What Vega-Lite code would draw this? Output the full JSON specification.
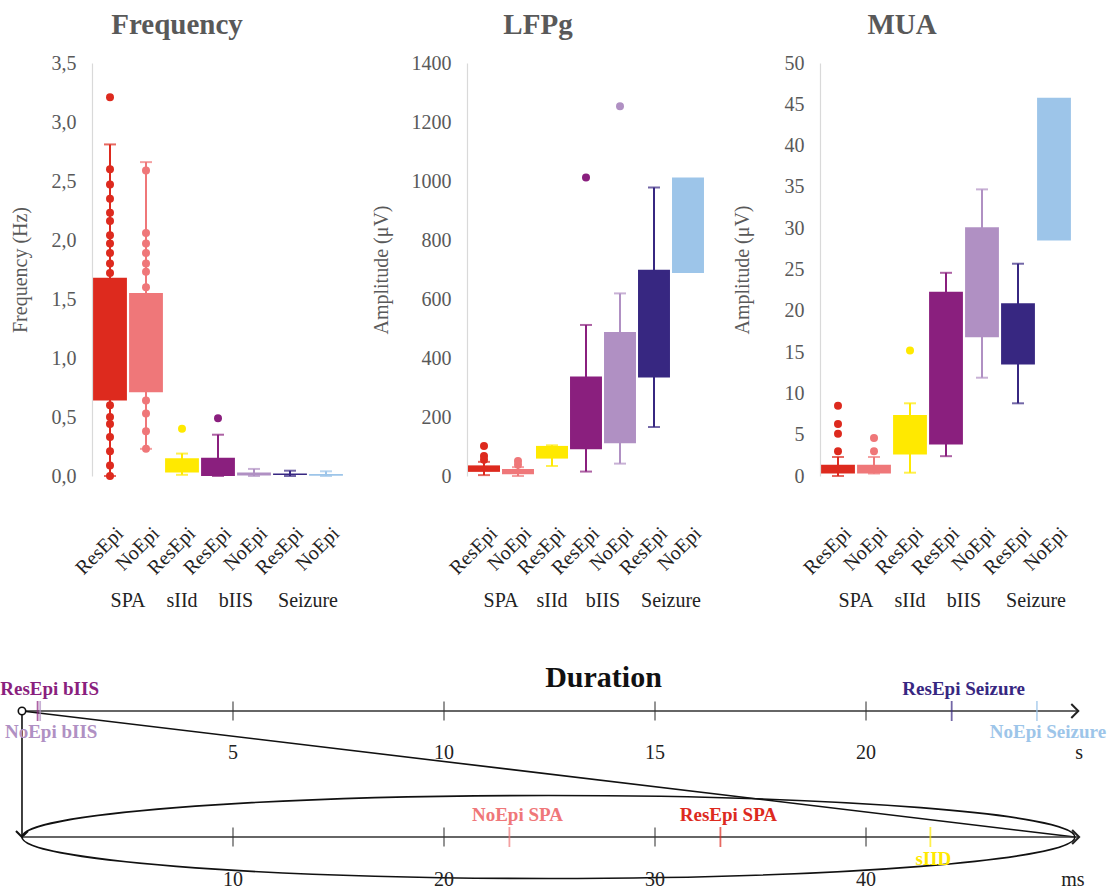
{
  "$schema": "https://vega.github.io/schema/vega-lite/v6.json",
  "padding": {"left": 0, "top": 11, "right": 0, "bottom": 0},
  "background": "white",
  "config": {
    "view": {"stroke": null},
    "font": "Liberation Serif",
    "title": {"anchor": "middle", "font": "Liberation Serif", "fontSize": 29, "fontWeight": "bold", "color": "#595959", "offset": 13},
    "axisY": {"domainColor": "#d9d9d9", "domainWidth": 1.2, "ticks": false, "grid": false, "labelFont": "Liberation Serif", "labelFontSize": 20, "labelColor": "#595959", "labelPadding": 16, "titleFont": "Liberation Serif", "titleFontSize": 20, "titleFontWeight": "normal", "titleColor": "#595959", "titlePadding": 20},
    "axisX": {"domain": false, "ticks": false, "grid": false, "labelAngle": -45, "labelFont": "Liberation Serif", "labelFontSize": 20, "labelColor": "#222222", "labelPadding": 47, "labelOffset": 3},
    "header": {"labelFont": "Liberation Serif", "labelFontSize": 20, "labelColor": "#222222", "labelOrient": "bottom", "labelPadding": 115}
  },
  "datasets": {
    "top": [
      {"panel":"Frequency","group":"SPA","epi":"ResEpi","series":"ResEpi SPA","kind":"box","lo":0,"q1":0.64,"q3":1.68,"hi":2.81},
      {"panel":"Frequency","group":"SPA","epi":"NoEpi","series":"NoEpi SPA","kind":"box","lo":0.23,"q1":0.71,"q3":1.55,"hi":2.66},
      {"panel":"Frequency","group":"sIId","epi":"ResEpi","series":"ResEpi sIId","kind":"box","lo":0.01,"q1":0.03,"q3":0.15,"hi":0.19},
      {"panel":"Frequency","group":"bIIS","epi":"ResEpi","series":"ResEpi bIIS","kind":"box","lo":0,"q1":0,"q3":0.155,"hi":0.35},
      {"panel":"Frequency","group":"bIIS","epi":"NoEpi","series":"NoEpi bIIS","kind":"box","lo":0,"q1":0.005,"q3":0.03,"hi":0.06},
      {"panel":"Frequency","group":"Seizure","epi":"ResEpi","series":"ResEpi Seizure","kind":"box","lo":0,"q1":0.008,"q3":0.022,"hi":0.045},
      {"panel":"Frequency","group":"Seizure","epi":"NoEpi","series":"NoEpi Seizure","kind":"box","lo":0,"q1":0.002,"q3":0.018,"hi":0.04},
      {"panel":"Frequency","group":"SPA","epi":"ResEpi","series":"ResEpi SPA","kind":"pt","value":3.21},
      {"panel":"Frequency","group":"SPA","epi":"ResEpi","series":"ResEpi SPA","kind":"pt","value":2.6},
      {"panel":"Frequency","group":"SPA","epi":"ResEpi","series":"ResEpi SPA","kind":"pt","value":2.47},
      {"panel":"Frequency","group":"SPA","epi":"ResEpi","series":"ResEpi SPA","kind":"pt","value":2.35},
      {"panel":"Frequency","group":"SPA","epi":"ResEpi","series":"ResEpi SPA","kind":"pt","value":2.23},
      {"panel":"Frequency","group":"SPA","epi":"ResEpi","series":"ResEpi SPA","kind":"pt","value":2.16},
      {"panel":"Frequency","group":"SPA","epi":"ResEpi","series":"ResEpi SPA","kind":"pt","value":2.04},
      {"panel":"Frequency","group":"SPA","epi":"ResEpi","series":"ResEpi SPA","kind":"pt","value":1.97},
      {"panel":"Frequency","group":"SPA","epi":"ResEpi","series":"ResEpi SPA","kind":"pt","value":1.89},
      {"panel":"Frequency","group":"SPA","epi":"ResEpi","series":"ResEpi SPA","kind":"pt","value":1.8},
      {"panel":"Frequency","group":"SPA","epi":"ResEpi","series":"ResEpi SPA","kind":"pt","value":1.72},
      {"panel":"Frequency","group":"SPA","epi":"ResEpi","series":"ResEpi SPA","kind":"pt","value":0.6},
      {"panel":"Frequency","group":"SPA","epi":"ResEpi","series":"ResEpi SPA","kind":"pt","value":0.5},
      {"panel":"Frequency","group":"SPA","epi":"ResEpi","series":"ResEpi SPA","kind":"pt","value":0.44},
      {"panel":"Frequency","group":"SPA","epi":"ResEpi","series":"ResEpi SPA","kind":"pt","value":0.33},
      {"panel":"Frequency","group":"SPA","epi":"ResEpi","series":"ResEpi SPA","kind":"pt","value":0.21},
      {"panel":"Frequency","group":"SPA","epi":"ResEpi","series":"ResEpi SPA","kind":"pt","value":0.09},
      {"panel":"Frequency","group":"SPA","epi":"ResEpi","series":"ResEpi SPA","kind":"pt","value":0.0},
      {"panel":"Frequency","group":"SPA","epi":"NoEpi","series":"NoEpi SPA","kind":"pt","value":2.59},
      {"panel":"Frequency","group":"SPA","epi":"NoEpi","series":"NoEpi SPA","kind":"pt","value":2.06},
      {"panel":"Frequency","group":"SPA","epi":"NoEpi","series":"NoEpi SPA","kind":"pt","value":1.97},
      {"panel":"Frequency","group":"SPA","epi":"NoEpi","series":"NoEpi SPA","kind":"pt","value":1.89},
      {"panel":"Frequency","group":"SPA","epi":"NoEpi","series":"NoEpi SPA","kind":"pt","value":1.8},
      {"panel":"Frequency","group":"SPA","epi":"NoEpi","series":"NoEpi SPA","kind":"pt","value":1.73},
      {"panel":"Frequency","group":"SPA","epi":"NoEpi","series":"NoEpi SPA","kind":"pt","value":1.6},
      {"panel":"Frequency","group":"SPA","epi":"NoEpi","series":"NoEpi SPA","kind":"pt","value":0.64},
      {"panel":"Frequency","group":"SPA","epi":"NoEpi","series":"NoEpi SPA","kind":"pt","value":0.53},
      {"panel":"Frequency","group":"SPA","epi":"NoEpi","series":"NoEpi SPA","kind":"pt","value":0.38},
      {"panel":"Frequency","group":"SPA","epi":"NoEpi","series":"NoEpi SPA","kind":"pt","value":0.23},
      {"panel":"Frequency","group":"sIId","epi":"ResEpi","series":"ResEpi sIId","kind":"pt","value":0.4},
      {"panel":"Frequency","group":"bIIS","epi":"ResEpi","series":"ResEpi bIIS","kind":"pt","value":0.49},

      {"panel":"LFPg","group":"SPA","epi":"ResEpi","series":"ResEpi SPA","kind":"box","lo":3,"q1":14,"q3":36,"hi":48},
      {"panel":"LFPg","group":"SPA","epi":"NoEpi","series":"NoEpi SPA","kind":"box","lo":0,"q1":6,"q3":24,"hi":30},
      {"panel":"LFPg","group":"sIId","epi":"ResEpi","series":"ResEpi sIId","kind":"box","lo":34,"q1":59,"q3":102,"hi":104},
      {"panel":"LFPg","group":"bIIS","epi":"ResEpi","series":"ResEpi bIIS","kind":"box","lo":15,"q1":91,"q3":337,"hi":512},
      {"panel":"LFPg","group":"bIIS","epi":"NoEpi","series":"NoEpi bIIS","kind":"box","lo":42,"q1":111,"q3":488,"hi":619},
      {"panel":"LFPg","group":"Seizure","epi":"ResEpi","series":"ResEpi Seizure","kind":"box","lo":166,"q1":334,"q3":699,"hi":978},
      {"panel":"LFPg","group":"Seizure","epi":"NoEpi","series":"NoEpi Seizure","kind":"box","lo":null,"q1":688,"q3":1012,"hi":null},
      {"panel":"LFPg","group":"SPA","epi":"ResEpi","series":"ResEpi SPA","kind":"pt","value":102},
      {"panel":"LFPg","group":"SPA","epi":"ResEpi","series":"ResEpi SPA","kind":"pt","value":68},
      {"panel":"LFPg","group":"SPA","epi":"ResEpi","series":"ResEpi SPA","kind":"pt","value":55},
      {"panel":"LFPg","group":"SPA","epi":"NoEpi","series":"NoEpi SPA","kind":"pt","value":51},
      {"panel":"LFPg","group":"SPA","epi":"NoEpi","series":"NoEpi SPA","kind":"pt","value":38},
      {"panel":"LFPg","group":"bIIS","epi":"ResEpi","series":"ResEpi bIIS","kind":"pt","value":1012},
      {"panel":"LFPg","group":"bIIS","epi":"NoEpi","series":"NoEpi bIIS","kind":"pt","value":1253},

      {"panel":"MUA","group":"SPA","epi":"ResEpi","series":"ResEpi SPA","kind":"box","lo":0,"q1":0.3,"q3":1.35,"hi":2.3},
      {"panel":"MUA","group":"SPA","epi":"NoEpi","series":"NoEpi SPA","kind":"box","lo":0.3,"q1":0.3,"q3":1.35,"hi":2.3},
      {"panel":"MUA","group":"sIId","epi":"ResEpi","series":"ResEpi sIId","kind":"box","lo":0.4,"q1":2.6,"q3":7.4,"hi":8.8},
      {"panel":"MUA","group":"bIIS","epi":"ResEpi","series":"ResEpi bIIS","kind":"box","lo":2.4,"q1":3.8,"q3":22.3,"hi":24.6},
      {"panel":"MUA","group":"bIIS","epi":"NoEpi","series":"NoEpi bIIS","kind":"box","lo":11.9,"q1":16.8,"q3":30.1,"hi":34.7},
      {"panel":"MUA","group":"Seizure","epi":"ResEpi","series":"ResEpi Seizure","kind":"box","lo":8.8,"q1":13.5,"q3":20.9,"hi":25.7},
      {"panel":"MUA","group":"Seizure","epi":"NoEpi","series":"NoEpi Seizure","kind":"box","lo":null,"q1":28.5,"q3":45.8,"hi":null},
      {"panel":"MUA","group":"SPA","epi":"ResEpi","series":"ResEpi SPA","kind":"pt","value":8.5},
      {"panel":"MUA","group":"SPA","epi":"ResEpi","series":"ResEpi SPA","kind":"pt","value":6.3},
      {"panel":"MUA","group":"SPA","epi":"ResEpi","series":"ResEpi SPA","kind":"pt","value":5.1},
      {"panel":"MUA","group":"SPA","epi":"ResEpi","series":"ResEpi SPA","kind":"pt","value":3.0},
      {"panel":"MUA","group":"SPA","epi":"NoEpi","series":"NoEpi SPA","kind":"pt","value":4.6},
      {"panel":"MUA","group":"SPA","epi":"NoEpi","series":"NoEpi SPA","kind":"pt","value":3.0},
      {"panel":"MUA","group":"sIId","epi":"ResEpi","series":"ResEpi sIId","kind":"pt","value":15.2}
    ],
    "durAxes": [
      {"row":"s","from":0,"to":25.03},
      {"row":"ms","from":0,"to":50.1}
    ],
    "durLinks": [
      {"kind":"vertical","x0":0,"x1":0,"r0":"s","r1":"ms"},
      {"kind":"diagonal","x0":0,"x1":24.95,"r0":"s","r1":"ms"}
    ],
    "durTicks": [
      {"row":"s","v":5,"label":"5"},
      {"row":"s","v":10,"label":"10"},
      {"row":"s","v":15,"label":"15"},
      {"row":"s","v":20,"label":"20"},
      {"row":"ms","v":10,"label":"10"},
      {"row":"ms","v":20,"label":"20"},
      {"row":"ms","v":30,"label":"30"},
      {"row":"ms","v":40,"label":"40"}
    ],
    "durUnits": [
      {"row":"s","v":25.05,"label":"s"},
      {"row":"ms","v":49.8,"label":"ms"}
    ],
    "durEvents": [
      {"row":"s","v":0.37,"series":"ResEpi bIIS","label":"ResEpi bIIS","side":"above"},
      {"row":"s","v":0.43,"series":"NoEpi bIIS","label":"NoEpi bIIS","side":"below"},
      {"row":"s","v":22.03,"series":"ResEpi Seizure","label":"ResEpi Seizure","side":"above"},
      {"row":"s","v":24.05,"series":"NoEpi Seizure","label":"NoEpi Seizure","side":"below"},
      {"row":"ms","v":23.1,"series":"NoEpi SPA","label":"NoEpi SPA","side":"above"},
      {"row":"ms","v":33.1,"series":"ResEpi SPA","label":"ResEpi SPA","side":"above"},
      {"row":"ms","v":43.05,"series":"ResEpi sIId","label":"sIID","side":"below"}
    ],
    "durEllipse": [
      {"row":"ms","center":24.95}
    ]
  },
  "concat": [
    {
      "hconcat": [
        {
          "data": {"name": "top"},
          "transform": [{"filter": "datum.panel === 'Frequency'"}],
          "title": "Frequency",
          "facet": {"column": {"field": "group", "type": "nominal", "title": null, "sort": ["SPA","sIId","bIIS","Seizure"]}},
          "spacing": 0,
          "bounds": "flush",
          "resolve": {"scale": {"x": "independent"}},
          "spec": {
            "width": {"step": 36},
            "height": 413,
            "encoding": {
              "x": {"field": "epi", "type": "nominal", "sort": ["ResEpi","NoEpi"], "title": null, "scale": {"paddingInner": 0.06, "paddingOuter": 0.03}},
              "color": {"field": "series", "type": "nominal", "legend": null, "scale": {"domain": ["ResEpi SPA","NoEpi SPA","ResEpi sIId","ResEpi bIIS","NoEpi bIIS","ResEpi Seizure","NoEpi Seizure"], "range": ["#dd2a1e","#ef7779","#ffe900","#8a1f7e","#b090c3","#372781","#9dc5e9"]}}
            },
            "layer": [
              {"transform": [{"filter": "datum.kind === 'box' && datum.lo != null"}], "mark": {"type": "rule", "strokeWidth": 2},
               "encoding": {"y": {"field": "lo", "type": "quantitative", "title": "Frequency (Hz)", "scale": {"domain": [0, 3.5], "nice": false}, "axis": {"values": [0,0.5,1,1.5,2,2.5,3,3.5], "titlePadding": 21, "labelExpr": "replace(format(datum.value, '.1f'), '.', ',')"}}, "y2": {"field": "hi"}}},
              {"transform": [{"filter": "datum.kind === 'box' && datum.lo != null"}], "mark": {"type": "tick", "thickness": 2, "size": 12},
               "encoding": {"y": {"field": "hi", "type": "quantitative", "title": "Frequency (Hz)"}}},
              {"transform": [{"filter": "datum.kind === 'box' && datum.lo != null"}], "mark": {"type": "tick", "thickness": 2, "size": 12},
               "encoding": {"y": {"field": "lo", "type": "quantitative", "title": "Frequency (Hz)"}}},
              {"transform": [{"filter": "datum.kind === 'box'"}], "mark": {"type": "bar"},
               "encoding": {"y": {"field": "q1", "type": "quantitative", "title": "Frequency (Hz)"}, "y2": {"field": "q3"}}},
              {"transform": [{"filter": "datum.kind === 'pt'"}], "mark": {"type": "circle", "size": 64, "opacity": 1},
               "encoding": {"y": {"field": "value", "type": "quantitative", "title": "Frequency (Hz)"}}}
            ]
          }
        },
        {
          "data": {"name": "top"},
          "transform": [{"filter": "datum.panel === 'LFPg'"}],
          "title": "LFPg",
          "facet": {"column": {"field": "group", "type": "nominal", "title": null, "sort": ["SPA","sIId","bIIS","Seizure"]}},
          "spacing": 0,
          "bounds": "flush",
          "resolve": {"scale": {"x": "independent"}},
          "spec": {
            "width": {"step": 34},
            "height": 413,
            "encoding": {
              "x": {"field": "epi", "type": "nominal", "sort": ["ResEpi","NoEpi"], "title": null, "scale": {"paddingInner": 0.06, "paddingOuter": 0.03}},
              "color": {"field": "series", "type": "nominal", "legend": null, "scale": {"domain": ["ResEpi SPA","NoEpi SPA","ResEpi sIId","ResEpi bIIS","NoEpi bIIS","ResEpi Seizure","NoEpi Seizure"], "range": ["#dd2a1e","#ef7779","#ffe900","#8a1f7e","#b090c3","#372781","#9dc5e9"]}}
            },
            "layer": [
              {"transform": [{"filter": "datum.kind === 'box' && datum.lo != null"}], "mark": {"type": "rule", "strokeWidth": 2},
               "encoding": {"y": {"field": "lo", "type": "quantitative", "title": "Amplitude (μV)", "scale": {"domain": [0, 1400], "nice": false}, "axis": {"values": [0,200,400,600,800,1000,1200,1400], "format": "d", "titlePadding": 20}}, "y2": {"field": "hi"}}},
              {"transform": [{"filter": "datum.kind === 'box' && datum.lo != null"}], "mark": {"type": "tick", "thickness": 2, "size": 12},
               "encoding": {"y": {"field": "hi", "type": "quantitative", "title": "Amplitude (μV)"}}},
              {"transform": [{"filter": "datum.kind === 'box' && datum.lo != null"}], "mark": {"type": "tick", "thickness": 2, "size": 12},
               "encoding": {"y": {"field": "lo", "type": "quantitative", "title": "Amplitude (μV)"}}},
              {"transform": [{"filter": "datum.kind === 'box'"}], "mark": {"type": "bar"},
               "encoding": {"y": {"field": "q1", "type": "quantitative", "title": "Amplitude (μV)"}, "y2": {"field": "q3"}}},
              {"transform": [{"filter": "datum.kind === 'pt'"}], "mark": {"type": "circle", "size": 64, "opacity": 1},
               "encoding": {"y": {"field": "value", "type": "quantitative", "title": "Amplitude (μV)"}}}
            ]
          }
        },
        {
          "data": {"name": "top"},
          "transform": [{"filter": "datum.panel === 'MUA'"}],
          "title": "MUA",
          "facet": {"column": {"field": "group", "type": "nominal", "title": null, "sort": ["SPA","sIId","bIIS","Seizure"]}},
          "spacing": 0,
          "bounds": "flush",
          "resolve": {"scale": {"x": "independent"}},
          "spec": {
            "width": {"step": 36},
            "height": 413,
            "encoding": {
              "x": {"field": "epi", "type": "nominal", "sort": ["ResEpi","NoEpi"], "title": null, "scale": {"paddingInner": 0.06, "paddingOuter": 0.03}},
              "color": {"field": "series", "type": "nominal", "legend": null, "scale": {"domain": ["ResEpi SPA","NoEpi SPA","ResEpi sIId","ResEpi bIIS","NoEpi bIIS","ResEpi Seizure","NoEpi Seizure"], "range": ["#dd2a1e","#ef7779","#ffe900","#8a1f7e","#b090c3","#372781","#9dc5e9"]}}
            },
            "layer": [
              {"transform": [{"filter": "datum.kind === 'box' && datum.lo != null"}], "mark": {"type": "rule", "strokeWidth": 2},
               "encoding": {"y": {"field": "lo", "type": "quantitative", "title": "Amplitude (μV)", "scale": {"domain": [0, 50], "nice": false}, "axis": {"values": [0,5,10,15,20,25,30,35,40,45,50], "format": "d", "titlePadding": 32}}, "y2": {"field": "hi"}}},
              {"transform": [{"filter": "datum.kind === 'box' && datum.lo != null"}], "mark": {"type": "tick", "thickness": 2, "size": 12},
               "encoding": {"y": {"field": "hi", "type": "quantitative", "title": "Amplitude (μV)"}}},
              {"transform": [{"filter": "datum.kind === 'box' && datum.lo != null"}], "mark": {"type": "tick", "thickness": 2, "size": 12},
               "encoding": {"y": {"field": "lo", "type": "quantitative", "title": "Amplitude (μV)"}}},
              {"transform": [{"filter": "datum.kind === 'box'"}], "mark": {"type": "bar"},
               "encoding": {"y": {"field": "q1", "type": "quantitative", "title": "Amplitude (μV)"}, "y2": {"field": "q3"}}},
              {"transform": [{"filter": "datum.kind === 'pt'"}], "mark": {"type": "circle", "size": 64, "opacity": 1},
               "encoding": {"y": {"field": "value", "type": "quantitative", "title": "Amplitude (μV)"}}}
            ]
          }
        }
      ],
      "spacing": 27
    },
    {
      "width": 1023,
      "height": 126,
      "title": {"text": "Duration", "color": "#111111", "fontSize": 30, "offset": -13},
      "resolve": {"scale": {"x": "independent"}},
      "layer": [
        {
          "layer": [
            {"data": {"name": "durAxes"}, "transform": [{"filter": "datum.row === 's'"}],
             "mark": {"type": "rule", "color": "#333333", "strokeWidth": 1.6},
             "encoding": {
               "x": {"field": "from", "type": "quantitative", "scale": {"domain": [1.659, 25.9], "nice": false, "zero": false}, "axis": null},
               "x2": {"field": "to"},
               "y": {"field": "row", "type": "nominal", "scale": {"type": "point", "domain": ["s","ms"], "padding": 0}, "axis": null}}},
            {"data": {"name": "durAxes"}, "transform": [{"filter": "datum.row === 's'"}],
             "mark": {"type": "point", "shape": "M-1,-1L0,0L-1,1", "filled": false, "size": 196, "strokeWidth": 2, "color": "#222222", "opacity": 1},
             "encoding": {"x": {"field": "to", "type": "quantitative", "axis": null}, "y": {"field": "row", "type": "nominal", "axis": null}}},
            {"data": {"name": "durLinks"},
             "mark": {"type": "rule", "color": "#111111", "strokeWidth": 1.6},
             "encoding": {"x": {"field": "x0", "type": "quantitative", "axis": null}, "x2": {"field": "x1"}, "y": {"field": "r0", "type": "nominal", "axis": null}, "y2": {"field": "r1"}}},
            {"data": {"name": "durLinks"}, "transform": [{"filter": "datum.kind === 'vertical'"}],
             "mark": {"type": "point", "shape": "M-1,-1L0,0L1,-1", "filled": false, "size": 144, "strokeWidth": 2, "color": "#111111", "opacity": 1},
             "encoding": {"x": {"field": "x1", "type": "quantitative", "axis": null}, "y": {"field": "r1", "type": "nominal", "axis": null}}},
            {"data": {"name": "durLinks"}, "transform": [{"filter": "datum.kind === 'vertical'"}],
             "mark": {"type": "point", "shape": "circle", "filled": true, "fill": "white", "stroke": "#111111", "strokeWidth": 1.6, "size": 55, "opacity": 1},
             "encoding": {"x": {"field": "x0", "type": "quantitative", "axis": null}, "y": {"field": "r0", "type": "nominal", "axis": null}}},
            {"data": {"name": "durTicks"}, "transform": [{"filter": "datum.row === 's'"}],
             "mark": {"type": "tick", "orient": "vertical", "size": 19, "thickness": 1.5, "color": "#333333"},
             "encoding": {"x": {"field": "v", "type": "quantitative", "axis": null}, "y": {"field": "row", "type": "nominal", "axis": null}}},
            {"data": {"name": "durTicks"}, "transform": [{"filter": "datum.row === 's'"}],
             "mark": {"type": "text", "dy": 42, "fontSize": 20, "font": "Liberation Serif", "color": "#222222"},
             "encoding": {"x": {"field": "v", "type": "quantitative", "axis": null}, "y": {"field": "row", "type": "nominal", "axis": null}, "text": {"field": "label"}}},
            {"data": {"name": "durUnits"}, "transform": [{"filter": "datum.row === 's'"}],
             "mark": {"type": "text", "dy": 42, "fontSize": 20, "font": "Liberation Serif", "color": "#222222"},
             "encoding": {"x": {"field": "v", "type": "quantitative", "axis": null}, "y": {"field": "row", "type": "nominal", "axis": null}, "text": {"field": "label"}}},
            {"data": {"name": "durEvents"}, "transform": [{"filter": "datum.row === 's'"}],
             "mark": {"type": "tick", "orient": "vertical", "size": 20, "thickness": 1.8},
             "encoding": {"x": {"field": "v", "type": "quantitative", "axis": null}, "y": {"field": "row", "type": "nominal", "axis": null},
               "color": {"field": "series", "type": "nominal", "legend": null, "scale": {"domain": ["ResEpi SPA","NoEpi SPA","ResEpi sIId","ResEpi bIIS","NoEpi bIIS","ResEpi Seizure","NoEpi Seizure"], "range": ["#dd2a1e","#ef7779","#ffe900","#8a1f7e","#b090c3","#372781","#9dc5e9"]}}}},
            {"data": {"name": "durEvents"}, "transform": [{"filter": "datum.row === 's' && datum.side === 'above'"}],
             "mark": {"type": "text", "dy": -22, "dx": 12, "fontSize": 19, "fontWeight": "bold", "font": "Liberation Serif"},
             "encoding": {"x": {"field": "v", "type": "quantitative", "axis": null}, "y": {"field": "row", "type": "nominal", "axis": null}, "text": {"field": "label"},
               "color": {"field": "series", "type": "nominal", "legend": null, "scale": {"domain": ["ResEpi SPA","NoEpi SPA","ResEpi sIId","ResEpi bIIS","NoEpi bIIS","ResEpi Seizure","NoEpi Seizure"], "range": ["#dd2a1e","#ef7779","#ffe900","#8a1f7e","#b090c3","#372781","#9dc5e9"]}}}},
            {"data": {"name": "durEvents"}, "transform": [{"filter": "datum.row === 's' && datum.side === 'below'"}],
             "mark": {"type": "text", "dy": 21, "dx": 11, "fontSize": 19, "fontWeight": "bold", "font": "Liberation Serif"},
             "encoding": {"x": {"field": "v", "type": "quantitative", "axis": null}, "y": {"field": "row", "type": "nominal", "axis": null}, "text": {"field": "label"},
               "color": {"field": "series", "type": "nominal", "legend": null, "scale": {"domain": ["ResEpi SPA","NoEpi SPA","ResEpi sIId","ResEpi bIIS","NoEpi bIIS","ResEpi Seizure","NoEpi Seizure"], "range": ["#dd2a1e","#ef7779","#ffe900","#8a1f7e","#b090c3","#372781","#9dc5e9"]}}}}
          ]
        },
        {
          "layer": [
            {"data": {"name": "durAxes"}, "transform": [{"filter": "datum.row === 'ms'"}],
             "mark": {"type": "rule", "color": "#333333", "strokeWidth": 1.6},
             "encoding": {
               "x": {"field": "from", "type": "quantitative", "scale": {"domain": [3.318, 51.8], "nice": false, "zero": false}, "axis": null},
               "x2": {"field": "to"},
               "y": {"field": "row", "type": "nominal", "axis": null}}},
            {"data": {"name": "durAxes"}, "transform": [{"filter": "datum.row === 'ms'"}],
             "mark": {"type": "point", "shape": "M-1,-1L0,0L-1,1", "filled": false, "size": 196, "strokeWidth": 2, "color": "#222222", "opacity": 1},
             "encoding": {"x": {"field": "to", "type": "quantitative", "axis": null}, "y": {"field": "row", "type": "nominal", "axis": null}}},
            {"data": {"name": "durEllipse"},
             "mark": {"type": "point", "shape": "M-1,0C-1,-0.04352,-0.5523,-0.0788,0,-0.0788C0.5523,-0.0788,1,-0.04352,1,0C1,0.04352,0.5523,0.0788,0,0.0788C-0.5523,0.0788,-1,0.04352,-1,0Z", "filled": false, "size": 1108809, "strokeWidth": 1.6, "color": "#111111", "opacity": 1},
             "encoding": {"x": {"field": "center", "type": "quantitative", "axis": null}, "y": {"field": "row", "type": "nominal", "axis": null}}},
            {"data": {"name": "durTicks"}, "transform": [{"filter": "datum.row === 'ms'"}],
             "mark": {"type": "tick", "orient": "vertical", "size": 19, "thickness": 1.5, "color": "#333333"},
             "encoding": {"x": {"field": "v", "type": "quantitative", "axis": null}, "y": {"field": "row", "type": "nominal", "axis": null}}},
            {"data": {"name": "durTicks"}, "transform": [{"filter": "datum.row === 'ms'"}],
             "mark": {"type": "text", "dy": 43, "fontSize": 20, "font": "Liberation Serif", "color": "#222222"},
             "encoding": {"x": {"field": "v", "type": "quantitative", "axis": null}, "y": {"field": "row", "type": "nominal", "axis": null}, "text": {"field": "label"}}},
            {"data": {"name": "durUnits"}, "transform": [{"filter": "datum.row === 'ms'"}],
             "mark": {"type": "text", "dy": 43, "fontSize": 20, "font": "Liberation Serif", "color": "#222222"},
             "encoding": {"x": {"field": "v", "type": "quantitative", "axis": null}, "y": {"field": "row", "type": "nominal", "axis": null}, "text": {"field": "label"}}},
            {"data": {"name": "durEvents"}, "transform": [{"filter": "datum.row === 'ms'"}],
             "mark": {"type": "tick", "orient": "vertical", "size": 20, "thickness": 1.8},
             "encoding": {"x": {"field": "v", "type": "quantitative", "axis": null}, "y": {"field": "row", "type": "nominal", "axis": null},
               "color": {"field": "series", "type": "nominal", "legend": null, "scale": {"domain": ["ResEpi SPA","NoEpi SPA","ResEpi sIId","ResEpi bIIS","NoEpi bIIS","ResEpi Seizure","NoEpi Seizure"], "range": ["#dd2a1e","#ef7779","#ffe900","#8a1f7e","#b090c3","#372781","#9dc5e9"]}}}},
            {"data": {"name": "durEvents"}, "transform": [{"filter": "datum.row === 'ms' && datum.side === 'above'"}],
             "mark": {"type": "text", "dy": -22, "dx": 8, "fontSize": 19, "fontWeight": "bold", "font": "Liberation Serif"},
             "encoding": {"x": {"field": "v", "type": "quantitative", "axis": null}, "y": {"field": "row", "type": "nominal", "axis": null}, "text": {"field": "label"},
               "color": {"field": "series", "type": "nominal", "legend": null, "scale": {"domain": ["ResEpi SPA","NoEpi SPA","ResEpi sIId","ResEpi bIIS","NoEpi bIIS","ResEpi Seizure","NoEpi Seizure"], "range": ["#dd2a1e","#ef7779","#ffe900","#8a1f7e","#b090c3","#372781","#9dc5e9"]}}}},
            {"data": {"name": "durEvents"}, "transform": [{"filter": "datum.row === 'ms' && datum.side === 'below'"}],
             "mark": {"type": "text", "dy": 22, "dx": 3, "fontSize": 19, "fontWeight": "bold", "font": "Liberation Serif"},
             "encoding": {"x": {"field": "v", "type": "quantitative", "axis": null}, "y": {"field": "row", "type": "nominal", "axis": null}, "text": {"field": "label"},
               "color": {"field": "series", "type": "nominal", "legend": null, "scale": {"domain": ["ResEpi SPA","NoEpi SPA","ResEpi sIId","ResEpi bIIS","NoEpi bIIS","ResEpi Seizure","NoEpi Seizure"], "range": ["#dd2a1e","#ef7779","#ffe900","#8a1f7e","#b090c3","#372781","#9dc5e9"]}}}}
          ]
        }
      ]
    }
  ],
  "columns": 1,
  "align": "none",
  "spacing": 52
}
